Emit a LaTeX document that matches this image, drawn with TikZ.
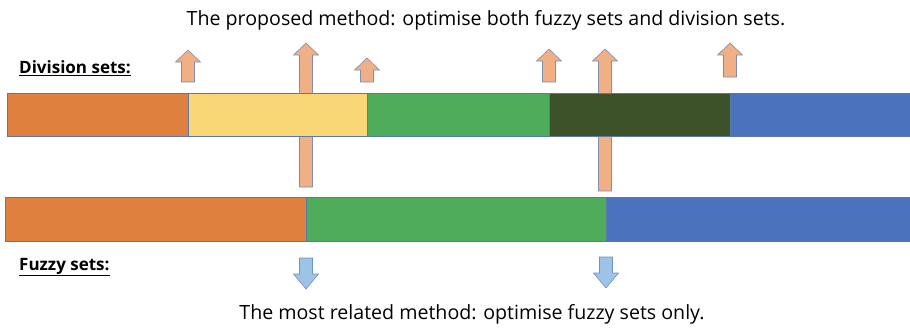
\documentclass[tikz,border=0pt]{standalone}
\usepackage{fontspec}
\setmainfont{Open Sans}
\definecolor{c1}{HTML}{E0803F}
\definecolor{c2}{HTML}{F9D777}
\definecolor{c3}{HTML}{4EAC5B}
\definecolor{c4}{HTML}{3D5229}
\definecolor{c5}{HTML}{4A72BD}
\definecolor{edge}{HTML}{5B79A8}
\definecolor{upfill}{HTML}{F1AF85}
\definecolor{upedge}{HTML}{7F8FAF}
\definecolor{dnfill}{HTML}{9DC3E6}
\definecolor{dnedge}{HTML}{6F93C4}
\tikzset{
  seg/.style={draw=edge, line width=0.8pt},
  uparrow/.style={fill=upfill, draw=upedge, line width=0.6pt},
  dnarrow/.style={fill=dnfill, draw=dnedge, line width=0.6pt},
  lbl/.style={font=\fontsize{19.6}{22}\selectfont, inner sep=0pt},
  hdr/.style={font=\bfseries\fontsize{17}{20}\selectfont, inner sep=0pt, anchor=west}
}
% up arrow: #1 centre x, #2 tip y, #3 bottom y
\newcommand{\UpArr}[3]{%
  \draw[uparrow] (#1-6.5,#3) -- (#1-6.5,#2+12) -- (#1-12.5,#2+12) -- (#1,#2) -- (#1+12.5,#2+12) -- (#1+6.5,#2+12) -- (#1+6.5,#3) -- cycle;}
\newcommand{\DnArr}[3]{%
  \draw[dnarrow] (#1-6.5,#2) -- (#1-6.5,#3-15) -- (#1-12.5,#3-15) -- (#1,#3) -- (#1+12.5,#3-15) -- (#1+6.5,#3-15) -- (#1+6.5,#2) -- cycle;}
\begin{document}
\begin{tikzpicture}[x=1pt,y=-1pt]
\useasboundingbox (0,0) rectangle (910,327);
% long arrows behind the bars
\UpArr{306}{43}{187}
\UpArr{605}{49}{191}
% division sets bar
\draw[seg, fill=c1] (7,93) rectangle (188,136);
\draw[seg, fill=c2] (188,93) rectangle (367,136);
\draw[seg, fill=c3] (367,93) rectangle (549,136);
\draw[seg, fill=c4] (549,93) rectangle (730,136);
\draw[seg, fill=c5] (730,93) rectangle (912,136);
% fuzzy sets bar
\draw[seg, fill=c1] (5,197) rectangle (306,241);
\draw[seg, fill=c3] (306,197) rectangle (606,241);
\draw[seg, fill=c5] (606,197) rectangle (912,241);
% small arrows
\UpArr{188}{50}{82}
\UpArr{367}{58}{82}
\UpArr{549}{49}{82}
\UpArr{730}{43}{77}
\DnArr{306}{258}{289}
\DnArr{606}{257}{288}
% texts
\node[lbl] (t1) at (486,20) {The proposed method: optimise both fuzzy sets and division sets.};
\node[lbl] (t2) at (472,314) {The most related method: optimise fuzzy sets only.};
\node[hdr] (h1) at (19,68) {\underline{Division sets:}};
\node[hdr] (h2) at (19,267) {\underline{Fuzzy sets:}};
\end{tikzpicture}
\end{document}
